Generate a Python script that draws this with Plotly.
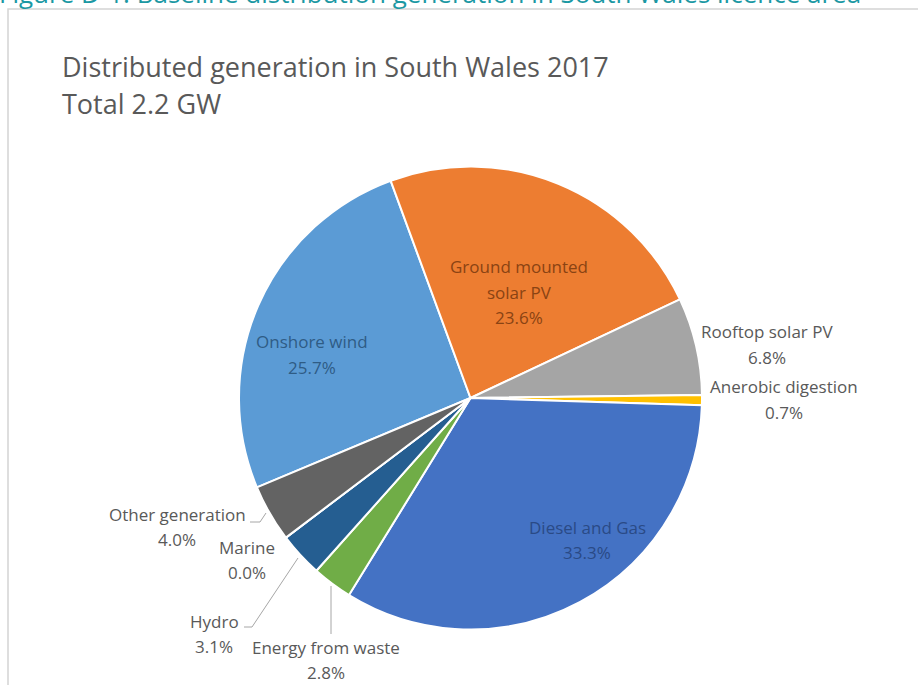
import plotly.graph_objects as go

# Distributed generation in South Wales, 2017 (share of 2.2 GW total)
categories = [
    "Onshore wind",
    "Ground mounted solar PV",
    "Rooftop solar PV",
    "Anerobic digestion",
    "Diesel and Gas",
    "Energy from waste",
    "Hydro",
    "Marine",
    "Other generation",
]
shares = [25.7, 23.6, 6.8, 0.7, 33.3, 2.8, 3.1, 0.0, 4.0]
colors = ["#5B9BD5", "#ED7D31", "#A5A5A5", "#FFC000", "#4472C4",
          "#70AD47", "#255E91", "#9E480E", "#636363"]

title_lines = ["Distributed generation in South Wales 2017", "Total 2.2 GW"]
caption = "Figure D-1: Baseline distribution generation in South Wales licence area"

W, H = 918, 685


def px(x):
    return x / W


def py(y):
    return 1 - y / H


# pie placement in pixels
cx, cy, r = 470.5, 398, 231.5

fig = go.Figure()
fig.add_trace(go.Pie(
    labels=categories,
    values=shares,
    sort=False,
    direction="clockwise",
    rotation=-112.7,
    marker=dict(colors=colors, line=dict(color="white", width=2)),
    textinfo="none",
    hoverinfo="label+percent",
    showlegend=False,
    domain=dict(x=[px(cx - r), px(cx + r)], y=[py(cy + r), py(cy - r)]),
))

# label layout: (wrapped name lines, centre x, first line y, text colour)
label_layout = {
    "Onshore wind": (["Onshore wind"], 312, 342, "#2F5C85"),
    "Ground mounted solar PV": (["Ground mounted", "solar PV"], 519, 267, "#8A4313"),
    "Rooftop solar PV": (["Rooftop solar PV"], 767, 332, "#595959"),
    "Anerobic digestion": (["Anerobic digestion"], 784, 387, "#595959"),
    "Diesel and Gas": (["Diesel and Gas"], 587, 527, "#2A4A86"),
    "Energy from waste": (["Energy from waste"], 326, 647, "#595959"),
    "Hydro": (["Hydro"], 214, 621, "#595959"),
    "Marine": (["Marine"], 247, 547, "#595959"),
    "Other generation": (["Other generation"], 177, 514, "#595959"),
}
line_gap = 25
label_font = "Open Sans"
label_size = 17

annotations = []
for name, val in zip(categories, shares):
    lines, lx, ly, col = label_layout[name]
    lines = lines + [f"{val:.1f}%"]
    for i, t in enumerate(lines):
        annotations.append(dict(
            x=px(lx), y=py(ly + i * line_gap), xref="paper", yref="paper",
            text=t, showarrow=False, xanchor="center", yanchor="middle",
            font=dict(family=label_font, size=label_size, color=col),
        ))

# chart title
for i, t in enumerate(title_lines):
    annotations.append(dict(
        x=px(60), y=py(67 + i * 36), xref="paper", yref="paper",
        text=t, showarrow=False, xanchor="left", yanchor="middle",
        font=dict(family="Open Sans", size=27, color="#595959"),
    ))

# figure caption above the chart box
annotations.append(dict(
    x=px(-3), y=py(13), xref="paper", yref="paper",
    text=caption, showarrow=False, xanchor="left", yanchor="bottom",
    font=dict(family="Open Sans", size=26, color="#1B98A3"),
))

# leader lines for the small outside slices
leader = dict(color="#A6A6A6", width=1)
leaders = [
    [(250, 522), (260, 522), (266, 513)],   # Other generation
    [(244, 627), (252, 627), (298, 558)],   # Hydro
    [(331, 586), (331, 634)],               # Energy from waste
]
shapes = [dict(type="rect", xref="paper", yref="paper",
               x0=px(8), x1=px(W + 20), y0=py(9), y1=py(H + 20),
               line=dict(color="#D4D4D4", width=1.5), fillcolor="white",
               layer="below")]
for pts in leaders:
    path = "M " + " L ".join(f"{px(x)},{py(y)}" for x, y in pts)
    shapes.append(dict(type="path", xref="paper", yref="paper", path=path, line=leader))

fig.update_layout(
    width=W, height=H,
    margin=dict(l=0, r=0, t=0, b=0),
    paper_bgcolor="white",
    plot_bgcolor="white",
    annotations=annotations,
    shapes=shapes,
)

fig.write_html("out.html")
